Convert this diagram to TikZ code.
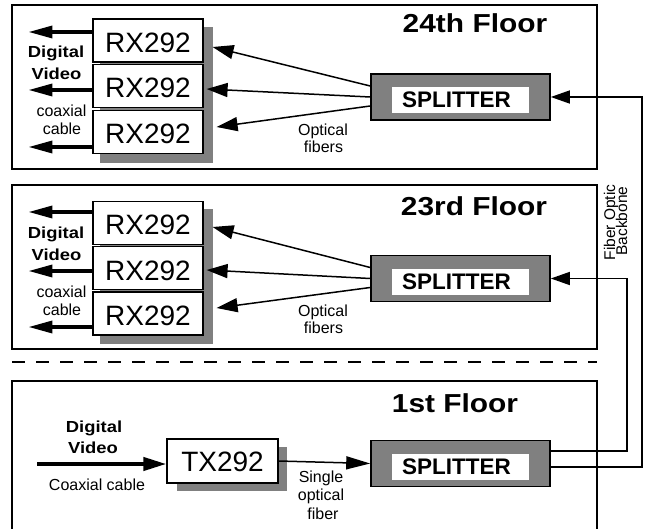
\documentclass[tikz,border=0pt]{standalone}
\usepackage{fontspec}
\setmainfont{Liberation Sans}
\usetikzlibrary{arrows.meta,calc}
\begin{document}
\begin{tikzpicture}[x=1pt,y=-1pt,
  floorbox/.style={draw,line width=1.3pt},
  rxbox/.style={draw,fill=white,line width=1.2pt,minimum width=110pt,minimum height=43pt,inner sep=0pt,
    font=\fontsize{28}{30}\selectfont,text height=24pt,text depth=0pt},
  shadowfill/.style={fill=black!50},
  splitbox/.style={draw,fill=black!50,line width=1.6pt,minimum width=179pt,minimum height=46pt,inner sep=0pt,
    font=\bfseries\fontsize{22.5}{24}\selectfont,text height=22pt,text depth=0pt,
    path picture={\fill[white] ($(path picture bounding box.south west)+(21,-7)$) rectangle ($(path picture bounding box.north east)+(-21,13)$);}},
  titletxt/.style={font=\bfseries\fontsize{26}{28}\selectfont,anchor=base,inner sep=0pt},
  dvtxt/.style={font=\bfseries\fontsize{16}{18}\selectfont,anchor=base,inner sep=0pt},
  smalltxt/.style={font=\fontsize{16}{18}\selectfont,anchor=base,inner sep=0pt},
  coaxout/.style={line width=3.4pt,-{Triangle[length=24pt,width=12pt]}},
  coaxin/.style={line width=4pt,-{Triangle[length=23pt,width=13pt]}},
  fiber/.style={line width=1.5pt,-{Triangle[length=21pt,width=14pt]}},
  backbone/.style={line width=1.5pt,-{Triangle[length=19pt,width=13pt]}},
  divider/.style={line width=1.5pt,dash pattern=on 13pt off 11pt}
]
\useasboundingbox (0,0) rectangle (647,529);

% ---------------- 24th floor ----------------
\draw[floorbox] (12,5) rectangle (597,169);
\node[titletxt] (t24) at (475,33) {\scalebox{1.15}[1]{24th Floor}};
\fill[shadowfill] (100,27) rectangle (213,163);
\node[rxbox] (a1) at (148,40.5) {RX292};
\node[rxbox] (a2) at (148,86) {RX292};
\node[rxbox] (a3) at (148,132) {RX292};
\node[splitbox] (s24) at (460.5,97) {\hspace*{-8pt}SPLITTER};
\draw[coaxout] ($(a1.west)+(0,-8.5)$) -- ++(-64,0);
\draw[coaxout] ($(a2.west)+(0,4)$) -- ++(-64,0);
\draw[coaxout] ($(a3.west)+(0,15)$) -- ++(-64,0);
\draw[fiber] ($(s24.west)+(0,-11)$) -- ($(a1.east)+(9,6.5)$);
\draw[fiber] (s24.west) -- ($(a2.east)+(3,3)$);
\draw[fiber] ($(s24.west)+(0,9)$) -- ($(a3.east)+(13,-5)$);
\node[dvtxt] (d24a) at (56,58) {\scalebox{1.15}[1]{Digital}};
\node[dvtxt] (d24b) at (56.5,80) {\scalebox{1.15}[1]{Video}};
\node[smalltxt] (c24a) at (61.5,117) {coaxial};
\node[smalltxt] (c24b) at (62,135) {cable};
\node[smalltxt] (o24a) at (323,136) {Optical};
\node[smalltxt] (o24b) at (323.5,153) {fibers};

% ---------------- 23rd floor ----------------
\draw[floorbox] (12,185) rectangle (597,349);
\node[titletxt] (t23) at (474,215) {\scalebox{1.15}[1]{23rd Floor}};
\fill[shadowfill] (100,209) rectangle (213,344);
\node[rxbox] (b1) at (148,223) {RX292};
\node[rxbox] (b2) at (148,268) {RX292};
\node[rxbox] (b3) at (148,313.5) {RX292};
\node[splitbox] (s23) at (460.5,278.5) {\hspace*{-8pt}SPLITTER};
\draw[coaxout] ($(b1.west)+(0,-11)$) -- ++(-64,0);
\draw[coaxout] ($(b2.west)+(0,3)$) -- ++(-64,0);
\draw[coaxout] ($(b3.west)+(0,13.5)$) -- ++(-64,0);
\draw[fiber] ($(s23.west)+(0,-11)$) -- ($(b1.east)+(9,4)$);
\draw[fiber] (s23.west) -- ($(b2.east)+(3,2)$);
\draw[fiber] ($(s23.west)+(0,9)$) -- ($(b3.east)+(13,-5.5)$);
\node[dvtxt] (d23a) at (56,238) {\scalebox{1.15}[1]{Digital}};
\node[dvtxt] (d23b) at (56.5,260) {\scalebox{1.15}[1]{Video}};
\node[smalltxt] (c23a) at (61.5,297) {coaxial};
\node[smalltxt] (c23b) at (62,315) {cable};
\node[smalltxt] (o23a) at (323,316) {Optical};
\node[smalltxt] (o23b) at (323.5,333) {fibers};

% divider
\draw[divider] (12,362) -- (597,362);

% ---------------- 1st floor ----------------
\draw[floorbox] (12,529) -- (12,381) -- (597,381) -- (597,529);
\node[titletxt] (t1) at (455,412) {\scalebox{1.15}[1]{1st Floor}};
\fill[shadowfill] (177,447) rectangle (287,491);
\node[rxbox,minimum width=111pt,minimum height=44pt,text height=21pt] (tx) at (222.5,461) {TX292};
\node[splitbox] (s1) at (460.5,463.5) {\hspace*{-8pt}SPLITTER};
\coordinate (vin) at (37,464);
\draw[coaxin] (vin) -- (vin -| tx.west);
\draw[fiber,-{Triangle[length=24pt,width=13pt]}] (tx.east) -- (s1.west);
\node[dvtxt] (d1a) at (94,432) {\scalebox{1.15}[1]{Digital}};
\node[dvtxt] (d1b) at (93,453) {\scalebox{1.15}[1]{Video}};
\node[smalltxt] (cc1) at (97,490) {Coaxial cable};
\node[smalltxt] (sg1) at (321,482) {Single};
\node[smalltxt] (sg2) at (321,500) {optical};
\node[smalltxt] (sg3) at (323,519) {fiber};

% ---------------- backbone ----------------
\coordinate (bb1) at (642,97);
\coordinate (bb2) at (627,278.5);
\draw[backbone] ($(s1.east)+(0,3.5)$) -| (bb1) -- (s24.east);
\draw[backbone] ($(s1.east)+(0,-12.5)$) -| (bb2) -- (s23.east);
\node[smalltxt,rotate=90,font=\fontsize{15.5}{16}\selectfont] (fo1) at (615,222.5) {Fiber Optic};
\node[smalltxt,rotate=90,font=\fontsize{15.5}{16}\selectfont] (fo2) at (627,221) {Backbone};
\end{tikzpicture}
\end{document}
